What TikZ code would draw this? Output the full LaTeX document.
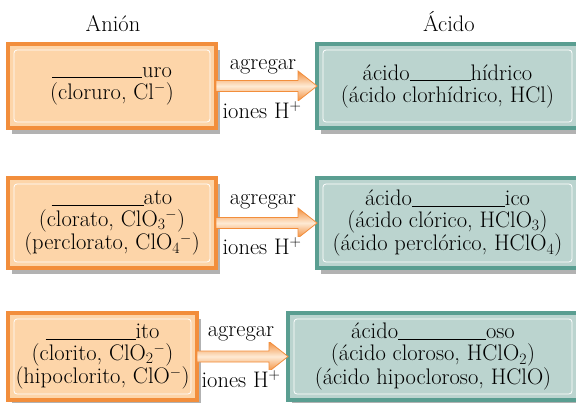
\documentclass[tikz,border=0pt]{standalone}
\usetikzlibrary{calc,shadows}
\definecolor{orfill}{HTML}{FDD5A9}
\definecolor{orline}{HTML}{F28E3C}
\definecolor{tlfill}{HTML}{BBD4CF}
\definecolor{tlline}{HTML}{5A9E91}
\newcommand{\myblank}[1]{\rule[-1pt]{#1}{0.7pt}}
\begin{document}
\begin{tikzpicture}[x=1pt,y=-1pt,
  font=\fontsize{22.5}{22}\selectfont,
  boxbase/.style={line width=3.5pt, inner sep=0pt, outer sep=0pt, align=center,
    drop shadow={shadow xshift=4pt, shadow yshift=-6pt, opacity=0.3, fill=black}},
  anionbox/.style={boxbase, draw=orline, fill=orfill},
  acidbox/.style={boxbase, draw=tlline, fill=tlfill},
  innerline/.style={white, line width=0.8pt, rounded corners=3pt},
  fatarrow/.style={draw=orline, line width=0.8pt, top color=orline, bottom color=orline, middle color=orfill!50!white},
  lab/.style={fill=white, inner sep=1pt}]
\clip (0,0) rectangle (576,402);
\fill[white] (0,0) rectangle (576,402);

\node (tan) at (113,24) {Anión};
\node (tac) at (449,22) {Ácido};

\node[anionbox, minimum width=208pt, minimum height=84pt] (l1) at (112,86)
  {\myblank{90pt}uro\\(cloruro, Cl\textsuperscript{$-$})};
\node[acidbox, minimum width=261pt, minimum height=84pt] (r1) at (447.5,86)
  {ácido\myblank{61pt}hídrico\\(ácido clorhídrico, HCl)};

\node[anionbox, minimum width=208pt, minimum height=90pt] (l2) at (112,223)
  {\myblank{92pt}ato\\(clorato, ClO\textsubscript{3}\textsuperscript{$-$})\\(perclorato, ClO\textsubscript{4}\textsuperscript{$-$})};
\node[acidbox, minimum width=261pt, minimum height=90pt] (r2) at (447.5,223)
  {ácido\myblank{93pt}ico\\(ácido clórico, HClO\textsubscript{3})\\(ácido perclórico, HClO\textsubscript{4})};

\node[anionbox, minimum width=189pt, minimum height=87pt] (l3) at (102.5,356.5)
  {\myblank{90pt}ito\\(clorito, ClO\textsubscript{2}\textsuperscript{$-$})\\(hipoclorito, ClO\textsuperscript{$-$})};
\node[acidbox, minimum width=290pt, minimum height=87pt] (r3) at (433,356.5)
  {ácido\myblank{88pt}oso\\(ácido cloroso, HClO\textsubscript{2})\\(ácido hipocloroso, HClO)};

\foreach \n in {l1,r1,l2,r2,l3,r3}
  \draw[innerline] ($(\n.north west)+(6,6)$) rectangle ($(\n.south east)+(-6,-6)$);

\foreach \a/\b in {l1/r1,l2/r2,l3/r3}
  \path[fatarrow] ($(\a.east)+(0,-5.5)$) -- ($(\b.west)+(-19,-5.5)$) -- ($(\b.west)+(-19,-15)$)
    -- (\b.west) -- ($(\b.west)+(-19,15)$) -- ($(\b.west)+(-19,5.5)$) -- ($(\a.east)+(0,5.5)$) -- cycle;

\node[lab] (ag1) at (263,67) {agregar};
\node[lab] (io1) at (262,110) {iones H\textsuperscript{+}};
\node[lab] (ag2) at (263,202) {agregar};
\node[lab] (io2) at (262,246) {iones H\textsuperscript{+}};
\node[lab] (ag3) at (241,334) {agregar};
\node[lab] (io3) at (241,379) {iones H\textsuperscript{+}};
\end{tikzpicture}
\end{document}
